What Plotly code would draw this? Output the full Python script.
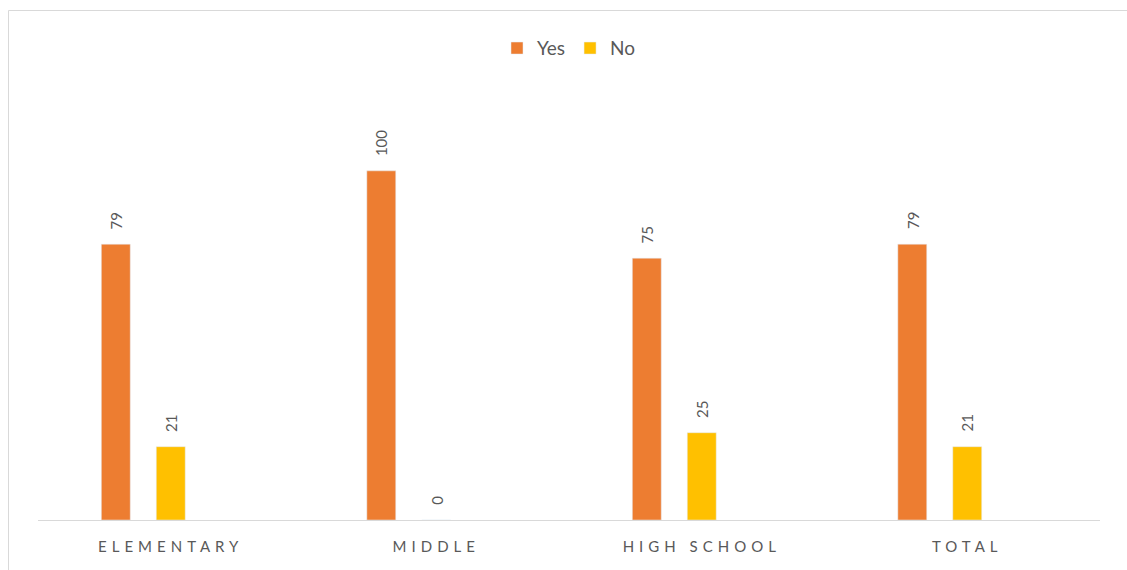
import plotly.graph_objects as go

categories = ["ELEMENTARY", "MIDDLE", "HIGH SCHOOL", "TOTAL"]
yes_values = [79, 100, 75, 79]
no_values = [21, 0, 25, 21]

YES_COLOR = "#ED7D31"
NO_COLOR = "#FFC000"
TEXT_GRAY = "#595959"
LINE_GRAY = "#D9D9D9"
FONT = "Lato, 'Open Sans', sans-serif"

xpos = list(range(len(categories)))
bar_w = 0.109
yes_center = -0.207
no_center = 0.0

fig = go.Figure()
fig.add_trace(go.Bar(
    name="Yes", x=xpos, y=yes_values, marker_color=YES_COLOR,
    width=bar_w, offset=yes_center - bar_w / 2, hoverinfo="y",
))
fig.add_trace(go.Bar(
    name="No", x=xpos, y=no_values, marker_color=NO_COLOR,
    width=bar_w, offset=no_center - bar_w / 2, hoverinfo="y",
))

annotations = []
for i, v in enumerate(yes_values):
    annotations.append(dict(x=i + yes_center, y=v, text=str(v), showarrow=False,
                            textangle=-90, yanchor="bottom", yshift=13,
                            font=dict(family=FONT, size=15, color=TEXT_GRAY)))
for i, v in enumerate(no_values):
    annotations.append(dict(x=i + no_center, y=v, text=str(v), showarrow=False,
                            textangle=-90, yanchor="bottom", yshift=13,
                            font=dict(family=FONT, size=15, color=TEXT_GRAY)))

L, R, T, B = 38, 27, 101, 50
W, H = 1127, 570
pw = W - L - R
ph = H - T - B
bx = (8.5 - L) / pw
by = (H - B - 10.5) / ph

fig.update_layout(
    width=W, height=H,
    margin=dict(l=L, r=R, t=T, b=B),
    paper_bgcolor="white", plot_bgcolor="white",
    barmode="overlay",
    showlegend=True,
    legend=dict(orientation="h", x=0.5, xanchor="center", y=1.126, yanchor="middle",
                font=dict(family=FONT, size=19, color=TEXT_GRAY),
                itemwidth=30, tracegroupgap=0),
    annotations=annotations,
    shapes=[
        dict(type="line", xref="paper", yref="paper", x0=bx, x1=bx, y0=-0.5, y1=by,
             line=dict(color=LINE_GRAY, width=1)),
        dict(type="line", xref="paper", yref="paper", x0=bx, x1=1.2, y0=by, y1=by,
             line=dict(color=LINE_GRAY, width=1)),
    ],
    font=dict(family=FONT, color=TEXT_GRAY),
)
fig.update_xaxes(
    range=[-0.5, len(categories) - 0.5],
    tickmode="array", tickvals=xpos, ticktext=categories,
    showline=True, linecolor=LINE_GRAY, linewidth=1,
    ticks="outside", ticklen=13, tickcolor="rgba(0,0,0,0)",
    tickfont=dict(family=FONT, size=15, color=TEXT_GRAY),
    showgrid=False, zeroline=False, fixedrange=True,
)
fig.update_yaxes(range=[0, 120], visible=False, showgrid=False, zeroline=False)

post = """
document.querySelectorAll('.xtick text').forEach(function(t){
  t.style.letterSpacing = '5px';
});
"""
fig.write_html("out.html", post_script=post)
